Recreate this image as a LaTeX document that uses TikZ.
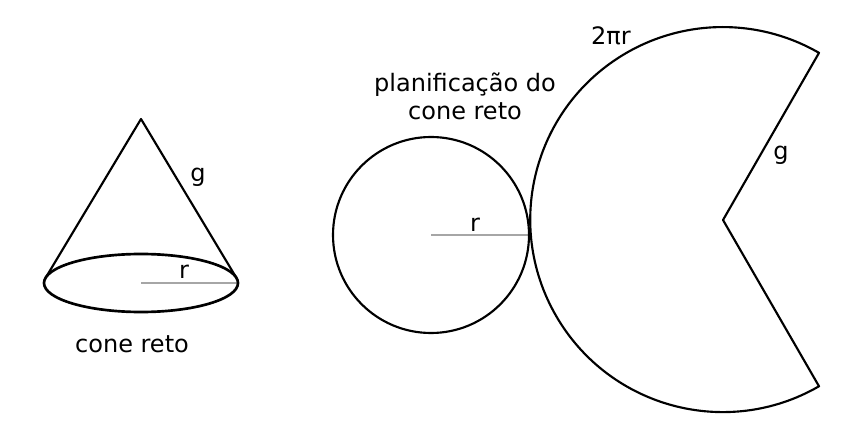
\documentclass[tikz,border=0pt]{standalone}
\usepackage{fontspec}
\setmainfont{DejaVu Sans}
\tikzset{
  outline/.style={draw=black,line width=1.6pt,line join=round},
  thick outline/.style={draw=black,line width=2pt},
  radius line/.style={draw=black!35,line width=1.1pt},
  label text/.style={inner sep=0pt,font=\fontsize{18}{21}\selectfont,align=center,text=black}
}
\begin{document}
\begin{tikzpicture}[x=0.75pt,y=-0.75pt]
\useasboundingbox (0,0) rectangle (855,427);
\fill[white] (0,0) rectangle (855,427);
% cone
\coordinate (apex) at (141,119);
\coordinate (coneL) at (45.5,278);
\coordinate (coneR) at (236.5,278);
\coordinate (coneC) at (141,283);
\coordinate (coneE) at (238,283);
\draw[radius line] (coneC) -- (coneE);
\draw[outline] (coneL) -- (apex) -- (coneR);
\draw[thick outline] (coneC) ellipse [x radius=97,y radius=29];
\node[label text] (gCone) at (198,177) {g};
\node[label text] (rCone) at (184,272) {r};
\node[label text] (coneLabel) at (132,344) {cone reto};
% net: circle
\coordinate (circC) at (431,235);
\coordinate (circE) at (529,235);
\draw[radius line] (circC) -- (circE);
\draw[outline] (circC) circle [radius=98];
\node[label text] (rNet) at (475,225) {r};
\node[label text] (netLabel) at (465,96) {planificação do\\cone reto};
% net: sector
\coordinate (secC) at (723,220);
\draw[outline] (secC) -- ++(60:192) arc[start angle=60,end angle=300,radius=192.5] -- cycle;
\node[label text] (gNet) at (781,155) {g};
\node[label text] (arcLabel) at (611,36) {2πr};
\end{tikzpicture}
\end{document}
